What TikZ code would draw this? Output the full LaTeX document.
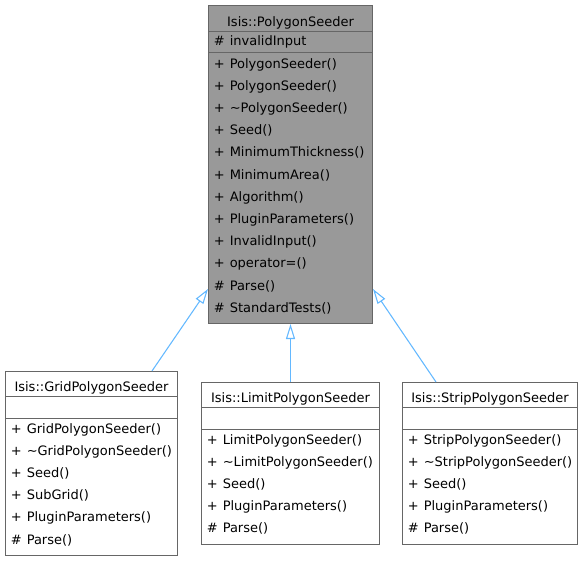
\documentclass[tikz,border=0pt]{standalone}
\usepackage{fontspec}
\setmainfont{DejaVu Sans}
\usepackage{xcolor}
\usetikzlibrary{arrows.meta,positioning,calc}

\definecolor{edgeblue}{HTML}{63B8FF}
\definecolor{boxline}{HTML}{666666}
\definecolor{basefill}{HTML}{999999}

\newcommand{\pubm}[1]{\makebox[12pt][l]{+}#1}
\newcommand{\prom}[1]{\makebox[12pt][l]{\#}#1}

\begin{document}
\begin{tikzpicture}[
    x=0.75pt, y=-0.75pt,
    classbox/.style={rectangle, draw=boxline, line width=0.75pt, inner sep=0, anchor=north west},
    title/.style={anchor=base, inner sep=0, font=\fontsize{9.75}{12}\selectfont},
    member/.style={anchor=base west, inner sep=0, font=\fontsize{9.75}{12}\selectfont},
    sep/.style={draw=boxline, line width=0.75pt},
    inherit/.style={draw=edgeblue, line width=0.8pt, -{Triangle[fill=white, length=11.25pt, width=6.75pt]}}
]
    \useasboundingbox (0,0) rectangle (583,561);

    % base class
    \node[classbox, fill=basefill, minimum width=123pt, minimum height=238.5pt] (seeder) at (208,5) {};
    \node[title] (seeder-title) at ($(seeder.north)+(0,21)$) {Isis::PolygonSeeder};
    \draw[sep] ($(seeder.north west)+(0,26)$) -- ($(seeder.north east)+(0,26)$);
    \node[member] (seeder-a0) at ($(seeder.north west)+(5.5,40.5)$) {\prom{invalidInput}};
    \draw[sep] ($(seeder.north west)+(0,47)$) -- ($(seeder.north east)+(0,47)$);
    \foreach \m [count=\i from 0] in {\pubm{PolygonSeeder()}, \pubm{PolygonSeeder()},
        \pubm{\textasciitilde PolygonSeeder()}, \pubm{Seed()}, \pubm{MinimumThickness()},
        \pubm{MinimumArea()}, \pubm{Algorithm()}, \pubm{PluginParameters()},
        \pubm{InvalidInput()}, \pubm{operator=()}, \prom{Parse()}, \prom{StandardTests()}}
        \node[member] (seeder-m\i) at ($(seeder.north west)+(5.5,63+22.2*\i)$) {\m};

    % derived classes
    \node[classbox, fill=white, minimum width=129pt, minimum height=138pt] (grid) at (5,371) {};
    \node[title] (grid-title) at ($(grid.north)+(0,20)$) {Isis::GridPolygonSeeder};
    \draw[sep] ($(grid.north west)+(0,25)$) -- ($(grid.north east)+(0,25)$);
    \draw[sep] ($(grid.north west)+(0,47)$) -- ($(grid.north east)+(0,47)$);
    \foreach \m [count=\i from 0] in {\pubm{GridPolygonSeeder()}, \pubm{\textasciitilde GridPolygonSeeder()},
        \pubm{Seed()}, \pubm{SubGrid()}, \pubm{PluginParameters()}, \prom{Parse()}}
        \node[member] (grid-m\i) at ($(grid.north west)+(5.5,62+22.2*\i)$) {\m};

    \node[classbox, fill=white, minimum width=133.5pt, minimum height=121.5pt] (limit) at (201,382) {};
    \node[title] (limit-title) at ($(limit.north)+(0,20)$) {Isis::LimitPolygonSeeder};
    \draw[sep] ($(limit.north west)+(0,25)$) -- ($(limit.north east)+(0,25)$);
    \draw[sep] ($(limit.north west)+(0,47)$) -- ($(limit.north east)+(0,47)$);
    \foreach \m [count=\i from 0] in {\pubm{LimitPolygonSeeder()}, \pubm{\textasciitilde LimitPolygonSeeder()},
        \pubm{Seed()}, \pubm{PluginParameters()}, \prom{Parse()}}
        \node[member] (limit-m\i) at ($(limit.north west)+(5.5,62+22.2*\i)$) {\m};

    \node[classbox, fill=white, minimum width=131.25pt, minimum height=121.5pt] (strip) at (402,382) {};
    \node[title] (strip-title) at ($(strip.north)+(0,20)$) {Isis::StripPolygonSeeder};
    \draw[sep] ($(strip.north west)+(0,25)$) -- ($(strip.north east)+(0,25)$);
    \draw[sep] ($(strip.north west)+(0,47)$) -- ($(strip.north east)+(0,47)$);
    \foreach \m [count=\i from 0] in {\pubm{StripPolygonSeeder()}, \pubm{\textasciitilde StripPolygonSeeder()},
        \pubm{Seed()}, \pubm{PluginParameters()}, \prom{Parse()}}
        \node[member] (strip-m\i) at ($(strip.north west)+(5.5,62+22.2*\i)$) {\m};

    % inheritance
    \draw[inherit] ($(grid.north west)+(147,0)$) -- ($(seeder.south west)+(0,-35)$);
    \draw[inherit] (limit.north) -- (seeder.south);
    \draw[inherit] ($(strip.north west)+(34,0)$) -- ($(seeder.south east)+(0,-35)$);
\end{tikzpicture}
\end{document}
